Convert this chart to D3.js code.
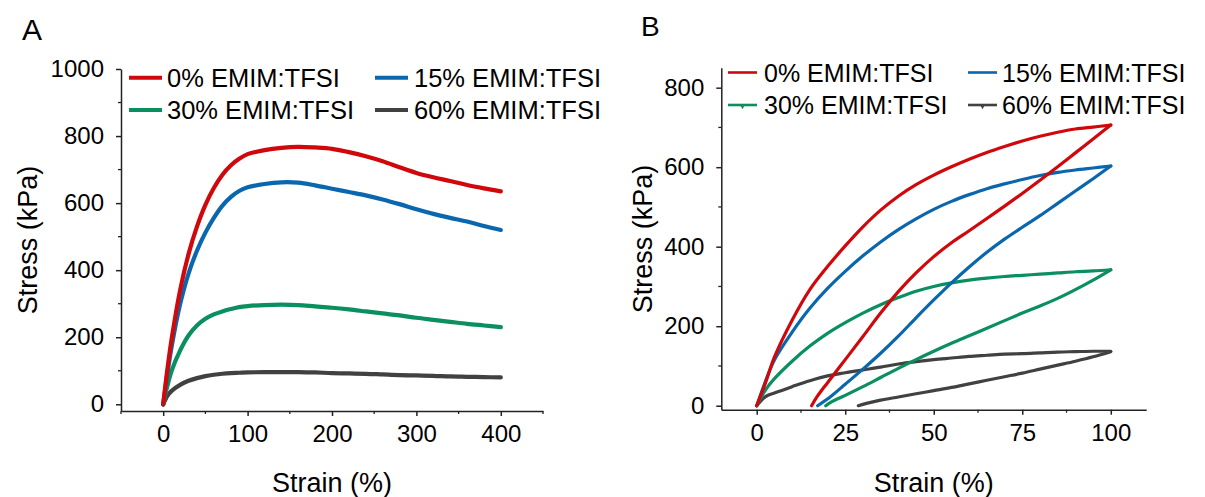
<!DOCTYPE html>
<html><head><meta charset="utf-8">
<script src="https://cdn.jsdelivr.net/npm/d3@7"></script>
<style>
html,body{margin:0;padding:0;background:#fff;}
svg{display:block;font-family:"Liberation Sans",Arial,sans-serif;}
</style></head>
<body>
<svg id="chart" width="1205" height="497"></svg>
<script>
// ---------- DATA ----------
const seriesNames = ["0% EMIM:TFSI","15% EMIM:TFSI","30% EMIM:TFSI","60% EMIM:TFSI"];
const seriesColors = ["#d0080c","#0b67ad","#0a8f5f","#414141"];

// Panel A: tensile curves
const strainA = [0,5,10,20,30,40,50,60,70,80,90,100,120,140,160,180,200,220,240,260,280,300,320,340,360,380,400];
const stressA0  = [0,105,195,340,448,530,595,645,684,712,732,746,758,765,768,766,762,752,740,725,707,690,677,666,654,644,635];
const stressA15 = [0,92,172,298,390,458,512,556,592,618,636,647,657,662,661,653,643,633,623,611,597,582,568,556,545,532,520];
const stressA30 = [0,55,100,160,205,235,255,268,277,284,290,293,296,297,296,292,288,283,277,271,265,258,252,246,240,235,230];
const stressA60 = [0,25,40,58,70,78,84,88,91,93,94,95,96,96,96,95,93,92,91,89,87,86,85,83,82,81,80];

// Panel B: loading/unloading cycles
const strainBLoad = [0,2.5,5,10,15,20,25,30,35,40,45,50,55,60,65,70,75,80,85,90,95,100];
const stressBLoad0  = [0,58,122,215,292,350,402,450,492,527,556,580,601,620,637,652,666,678,688,696,701,706];
const stressBLoad15 = [0,62,115,185,245,295,338,377,412,443,470,494,514,531,546,558,569,579,587,593,598,603];
const stressBLoad30 = [0,40,68,112,150,182,209,233,254,272,288,300,309,316,321,325,328,331,334,337,339,342];
const stressBLoad60 = [0,23,32,48,63,75,83,90,97,105,111,116,120,124,127,130,131,133,135,136,137,137];

const strainBUnload0  = [100,95,90,85,80,75,70,65,60,55,50,45,40,35,30,25,20,17,15.5];
const stressBUnload0  = [706,671,636,601,567,534,502,471,440,410,375,334,287,233,174,116,58,22,0];
const strainBUnload15 = [100,95,90,85,80,75,70,65,60,55,50,45,40,35,30,25,21,17.2];
const stressBUnload15 = [603,571,540,509,478,449,419,386,349,309,266,221,175,132,92,54,24,0];
const strainBUnload30 = [100,95,90,85,80,75,70,65,60,55,50,45,40,35,30,25,21,19.5];
const stressBUnload30 = [342,316,292,270,251,233,214,195,176,157,137,116,94,71,48,26,9,0];
const strainBUnload60 = [100,95,90,85,80,75,70,65,60,55,50,45,40,35,31,28.7];
const stressBUnload60 = [136,123,112,102,92,82,73,64,55,46,38,30,22,14,6,0];

const ticksAX = [0,100,200,300,400];
const ticksAY = [0,200,400,600,800,1000];
const ticksBX = [0,25,50,75,100];
const ticksBY = [0,200,400,600,800];
const xTitle = "Strain (%)";
const yTitle = "Stress (kPa)";

// ---------- DRAW ----------
const svg = d3.select("#chart");
const FONT = '"Liberation Sans",Arial,sans-serif';
const axisColor = "#222";

function zip(xs, ys){ return xs.map((x,i)=>[x, ys[i]]); }

function drawAxes(g, x, y, xt, yt, xMinorStep, yMinorStep){
  const [x0,x1] = x.domain(), [y0,y1] = y.domain();
  const xMinor = d3.range(Math.ceil(x0/xMinorStep)*xMinorStep, x1+1e-9, xMinorStep).filter(v=>!xt.includes(v));
  const yMinor = d3.range(Math.ceil(y0/yMinorStep)*yMinorStep, y1+1e-9, yMinorStep).filter(v=>!yt.includes(v));
  const yb = y.range()[0], xl = x.range()[0];
  g.append("g").selectAll("line").data(xMinor).join("line")
    .attr("x1", d=>x(d)).attr("x2", d=>x(d)).attr("y1", yb).attr("y2", yb+3)
    .attr("stroke", axisColor).attr("stroke-width", 1.3);
  g.append("g").selectAll("line").data(yMinor).join("line")
    .attr("y1", d=>y(d)).attr("y2", d=>y(d)).attr("x1", xl).attr("x2", xl-3)
    .attr("stroke", axisColor).attr("stroke-width", 1.3);
  const fmt = d3.format("d");
  const gx = g.append("g").attr("transform", `translate(0,${yb})`)
    .call(d3.axisBottom(x).tickValues(xt).tickFormat(fmt).tickSize(5).tickPadding(9).tickSizeOuter(0));
  const gy = g.append("g").attr("transform", `translate(${xl},0)`)
    .call(d3.axisLeft(y).tickValues(yt).tickFormat(fmt).tickSize(5).tickPadding(12).tickSizeOuter(0));
  [gx,gy].forEach(a=>{
    a.select(".domain").attr("stroke", axisColor).attr("stroke-width", 1.5);
    a.selectAll(".tick line").attr("stroke", axisColor).attr("stroke-width", 1.5);
    a.selectAll(".tick text").attr("fill","#000").style("font-family", FONT).style("font-size","24px");
  });
}

function legend(g, items, cols, rows, lineW, lineLen, fontSize, marker){
  items.forEach((it,i)=>{
    const c = i % 2, r = Math.floor(i/2);
    const lx = cols[c].line, ly = rows[r];
    g.append("line").attr("x1", lx).attr("x2", lx+lineLen).attr("y1", ly).attr("y2", ly)
      .attr("stroke", it.color).attr("stroke-width", lineW);
    if (marker && r===1){
      g.append("path").attr("d", d3.symbol(d3.symbolTriangle, 10)())
        .attr("transform", `translate(${lx+lineLen/2},${ly+1.5}) rotate(180)`).attr("fill", it.color);
    }
    g.append("text").attr("x", cols[c].text).attr("y", ly).attr("dy","0.36em")
      .style("font-family", FONT).style("font-size", fontSize+"px").attr("fill","#000").text(it.name);
  });
}

// ---- Panel A ----
{
  const g = svg.append("g");
  const x = d3.scaleLinear().domain([-50,450]).range([121,543]);
  const y = d3.scaleLinear().domain([-20,1000]).range([411,69]);
  drawAxes(g, x, y, ticksAX, ticksAY, 50, 100);
  const line = d3.line().x(d=>x(d[0])).y(d=>y(d[1])).curve(d3.curveCatmullRom.alpha(0.5));
  const data = [stressA0, stressA15, stressA30, stressA60];
  [3,2,1,0].forEach(i=>{
    g.append("path").datum(zip(strainA, data[i])).attr("d", line)
      .attr("fill","none").attr("stroke", seriesColors[i]).attr("stroke-width", 4.2)
      .attr("stroke-linejoin","round").attr("stroke-linecap","round");
  });
  legend(g, seriesNames.map((n,i)=>({name:n,color:seriesColors[i]})),
    [{line:129,text:167},{line:375,text:414}], [77.7,110], 4, 33, 25.5, false);
  g.append("text").attr("x", x(200)).attr("y", 492).attr("text-anchor","middle")
    .style("font-family",FONT).style("font-size","27px").text(xTitle);
  g.append("text").attr("transform", `translate(37,240) rotate(-90)`).attr("text-anchor","middle")
    .style("font-family",FONT).style("font-size","27px").text(yTitle);
  g.append("text").attr("x", 22).attr("y", 40).style("font-family",FONT).style("font-size","30px").text("A");
}

// ---- Panel B ----
{
  const g = svg.append("g");
  const x = d3.scaleLinear().domain([-10,110]).range([721.3,1146.2]);
  const y = d3.scaleLinear().domain([-10,850]).range([409.7,67.8]);
  drawAxes(g, x, y, ticksBX, ticksBY, 12.5, 100);
  const line = d3.line().x(d=>x(d[0])).y(d=>y(d[1])).curve(d3.curveCatmullRom.alpha(0.5));
  const loads = [stressBLoad0, stressBLoad15, stressBLoad30, stressBLoad60];
  const unStrain = [strainBUnload0, strainBUnload15, strainBUnload30, strainBUnload60];
  const unStress = [stressBUnload0, stressBUnload15, stressBUnload30, stressBUnload60];
  [3,2,1,0].forEach(i=>{
    g.append("path").datum(zip(strainBLoad, loads[i])).attr("d", line)
      .attr("fill","none").attr("stroke", seriesColors[i]).attr("stroke-width", 3.2).attr("stroke-linecap","round");
    g.append("path").datum(zip(unStrain[i], unStress[i])).attr("d", line)
      .attr("fill","none").attr("stroke", seriesColors[i]).attr("stroke-width", 3.2).attr("stroke-linecap","round");
  });
  legend(g, seriesNames.map((n,i)=>({name:n,color:seriesColors[i]})),
    [{line:728,text:764},{line:968,text:1002}], [72.5,105], 2.6, 29, 25, true);
  g.append("text").attr("x", x(50)).attr("y", 492).attr("text-anchor","middle")
    .style("font-family",FONT).style("font-size","27px").text(xTitle);
  g.append("text").attr("transform", `translate(652,239) rotate(-90)`).attr("text-anchor","middle")
    .style("font-family",FONT).style("font-size","27px").text(yTitle);
  g.append("text").attr("x", 641).attr("y", 36).style("font-family",FONT).style("font-size","28px").text("B");
}
</script>
</body></html>
